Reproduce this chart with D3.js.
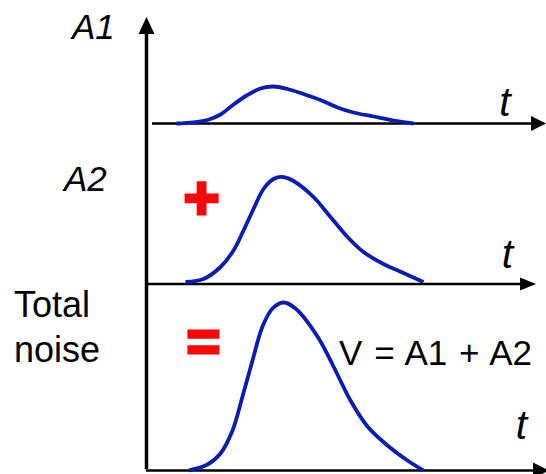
<!DOCTYPE html>
<html>
<head>
<meta charset="utf-8">
<script src="https://cdn.jsdelivr.net/npm/d3@7/dist/d3.min.js"></script>
<style>
  html, body { margin: 0; padding: 0; background: #fff; }
  svg { display: block; }
  text { font-family: "Liberation Sans", Arial, Helvetica, sans-serif; }
</style>
</head>
<body>
<script>
// Pulse A1: time samples and amplitude
const a1T = [30, 47, 61, 74, 87, 101, 114, 127, 141, 157, 174, 191, 207, 227, 247, 267];
const a1V = [0, 1.2, 3.5, 9, 19, 28.5, 35, 37, 34.5, 29.5, 23.5, 16, 11, 7, 3, 0];

// Pulse A2
const a2T = [39, 57, 74, 87, 97, 107, 117, 127, 136, 147, 167, 184, 201, 217, 237, 257, 277];
const a2V = [2, 5, 17, 33.5, 53.5, 75, 95, 105, 107, 103, 87, 67, 47, 32, 20, 11, 2];

// Total noise V = A1 + A2
const vT = [42, 61, 74, 86, 96, 106, 116, 126, 137, 149, 171, 187, 204, 221, 241, 261, 277];
const vV = [0, 6, 17, 40, 74, 110, 144, 162, 168, 162, 134, 104, 70, 44, 25, 10, 0];

// Panel labels
const panelLabels = ["A1", "A2"];
const axisLabel = "t";
const totalLabel = ["Total", "noise"];
const sumLabel = "V = A1 + A2";
const operators = ["+", "="];

const W = 546, H = 474;
const blue = "#0a1cb4", red = "#f80808";

const svg = d3.select("body").append("svg")
  .attr("width", W).attr("height", H);

// Shared time scale; t = 0 sits on the vertical axis
const x = d3.scaleLinear().domain([0, 400]).range([146.5, 546.5]);

// One amplitude scale per stacked panel
const panels = [
  { base: 123.5, t: a1T, v: a1V, x0: 152, tip: 546, half: 7.5, len: 15, tx: 505, ty: 116 },
  { base: 284,   t: a2T, v: a2V, x0: 146, tip: 536, half: 6.5, len: 16, tx: 507.5, ty: 268 },
  { base: 470.5, t: vT,  v: vV,  x0: 146, tip: 549, half: 8,   len: 16, tx: 521.5, ty: 439 }
];
panels.forEach(p => {
  p.y = d3.scaleLinear().domain([0, 200]).range([p.base, p.base - 200]);
});

// Vertical amplitude axis with arrowhead
const axX = x(0);
svg.append("line")
  .attr("x1", axX).attr("x2", axX)
  .attr("y1", 32).attr("y2", 469)
  .attr("stroke", "#000").attr("stroke-width", 3.5);
svg.append("path")
  .attr("d", `M${axX},17 L${axX - 8},34 L${axX + 8},34 Z`)
  .attr("fill", "#000");

// Time axes with arrowheads
panels.forEach(p => {
  const yb = p.y(0);
  svg.append("line")
    .attr("x1", p.x0).attr("x2", p.tip - p.len + 1)
    .attr("y1", yb).attr("y2", yb)
    .attr("stroke", "#000").attr("stroke-width", 2.5);
  svg.append("path")
    .attr("d", `M${p.tip},${yb} L${p.tip - p.len},${yb - p.half} L${p.tip - p.len},${yb + p.half} Z`)
    .attr("fill", "#000");
  svg.append("text")
    .attr("x", p.tx).attr("y", p.ty)
    .attr("text-anchor", "middle")
    .attr("font-size", 41).attr("font-style", "italic")
    .attr("fill", "#000")
    .text(axisLabel);
});

// Pulse curves
panels.forEach(p => {
  const pts = p.t.map((t, i) => [t, p.v[i]]);
  const line = d3.line()
    .x(d => x(d[0]))
    .y(d => p.y(d[1]))
    .curve(d3.curveCatmullRom.alpha(0.5));
  svg.append("path")
    .attr("d", line(pts))
    .attr("fill", "none")
    .attr("stroke", blue)
    .attr("stroke-width", 3.8)
    .attr("stroke-linecap", "butt");
});

// Panel labels
svg.append("text").attr("x", 72).attr("y", 39)
  .attr("font-size", 35).attr("font-style", "italic").text(panelLabels[0]);
svg.append("text").attr("x", 64).attr("y", 190.5)
  .attr("font-size", 35).attr("font-style", "italic").text(panelLabels[1]);

svg.append("text").attr("x", 14).attr("y", 316.5)
  .attr("font-size", 36).text(totalLabel[0]);
svg.append("text").attr("x", 14).attr("y", 361.5)
  .attr("font-size", 36).text(totalLabel[1]);

svg.append("text").attr("x", 532).attr("y", 364.5)
  .attr("text-anchor", "end")
  .attr("font-size", 35).attr("word-spacing", 2).text(sumLabel);

// Red operators between the panels
svg.append("text").attr("x", 201.5).attr("y", 219)
  .attr("text-anchor", "middle")
  .attr("font-size", 62).attr("font-weight", "bold")
  .attr("fill", red).attr("stroke", red).attr("stroke-width", 3)
  .text(operators[0]);
svg.append("text").attr("x", 203.5).attr("y", 361)
  .attr("text-anchor", "middle")
  .attr("font-size", 58).attr("font-weight", "bold")
  .attr("fill", red).attr("stroke", red).attr("stroke-width", 3)
  .text(operators[1]);
</script>
</body>
</html>
